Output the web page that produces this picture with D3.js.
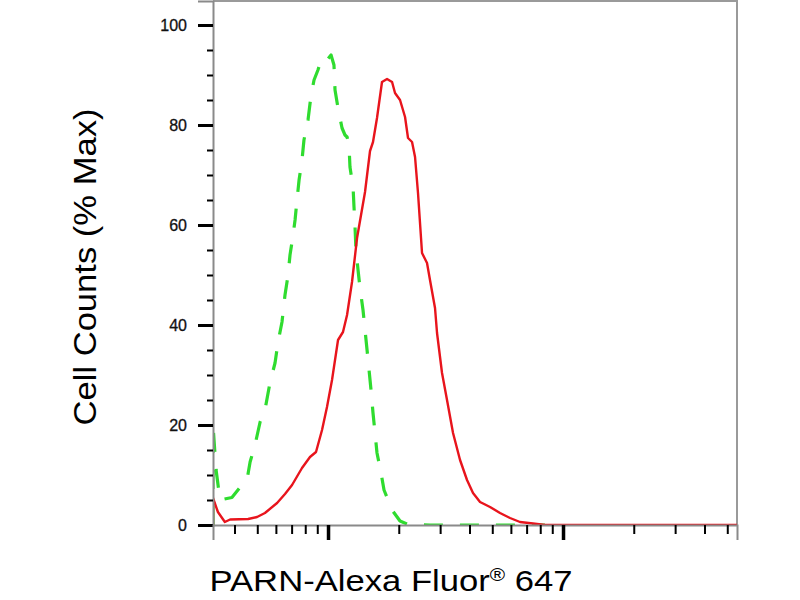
<!DOCTYPE html>
<html>
<head>
<meta charset="utf-8">
<script src="https://cdn.jsdelivr.net/npm/d3@7"></script>
<style>
html,body{margin:0;padding:0;background:#fff;}
svg{display:block;}
</style>
</head>
<body>
<svg id="chart" width="800" height="600"></svg>
<script>
// ---- data ----
const xDomain = [324, 55000];
const yDomain = [0, 104.8];
const yTickLabels = [0, 20, 40, 60, 80, 100];
const yMinorTicks = [5, 10, 15, 25, 30, 35, 45, 50, 55, 65, 70, 75, 85, 90, 95];
const xMajorTicks = [1000, 10000];
const xMinorTicks = [400, 500, 600, 700, 800, 900, 2000, 3000, 4000, 5000, 6000, 7000, 8000, 9000, 20000, 30000, 40000, 50000];

const greenX = [324, 324, 334, 347, 390, 422, 452, 466, 489, 514, 539, 567, 595, 613, 637, 656, 676, 689, 710, 724, 738, 753, 775, 790, 822, 847, 872, 906, 934, 962, 990, 1030, 1060, 1071, 1103, 1147, 1181, 1205, 1228, 1240, 1278, 1290, 1303, 1315, 1342, 1368, 1409, 1437, 1466, 1524, 1554, 1585, 1616, 1681, 1731, 1873, 2025, 2169, 2716, 4021, 5951, 8382];
const greenY = [0, 20, 11, 5, 5.5, 7.5, 9, 12.6, 16, 20.6, 23, 28.6, 32.4, 36.6, 40.6, 46, 50, 54, 58, 61, 65, 69, 73, 77, 81, 86, 89, 91, 93, 92.5, 93, 94, 92, 87, 83.4, 79.4, 78, 77.6, 76, 71.6, 67.6, 63.6, 59.6, 55, 51, 47.4, 43, 39, 35, 27, 22.4, 18.4, 14.4, 10.4, 7, 3, 0.8, 0.2, 0, 0, 0, 0];

const redX = [324, 324, 340, 364, 383, 457, 499, 539, 607, 656, 703, 775, 838, 889, 943, 990, 1040, 1103, 1158, 1205, 1265, 1329, 1437, 1509, 1554, 1616, 1697, 1783, 1873, 1928, 2025, 2127, 2190, 2278, 2346, 2415, 2512, 2638, 2716, 2853, 2910, 3056, 3209, 3404, 3646, 3904, 4140, 4435, 4892, 5395, 5951, 6561, 7454, 8382, 55000];
const redY = [0, 5.4, 2.6, 0.6, 1.1, 1.2, 1.6, 2.4, 4.4, 6.2, 8, 11.4, 13.6, 14.6, 19, 23.6, 29, 37, 38.6, 42, 48.6, 57.4, 66.6, 74.8, 76.6, 81.4, 88.6, 89.2, 88.6, 86.4, 85, 81.6, 77.4, 76.6, 73.6, 66.4, 54.4, 52.4, 49, 43.4, 38.4, 30.4, 25, 18.4, 13, 9, 6.4, 4.6, 3.6, 2.4, 1.4, 0.6, 0.3, 0, 0];

const xTitle = "PARN-Alexa Fluor";
const xTitleSup = "®";
const xTitleEnd = " 647";
const yTitle = "Cell Counts (% Max)";

// ---- layout ----
const L = 213, R = 737, T = 1, B = 525;
const svg = d3.select("#chart");
const x = d3.scaleLog().domain(xDomain).range([L, R]);
const y = d3.scaleLinear().domain(yDomain).range([B, T]);

svg.append("defs").append("clipPath").attr("id", "clip")
  .append("rect").attr("x", L).attr("y", T - 2).attr("width", R - L).attr("height", B - T + 2);

// frame (top/right)
svg.append("path")
  .attr("d", `M${L},${T}H${R}V${B}`)
  .attr("fill", "none").attr("stroke", "#9a9a9a").attr("stroke-width", 2);

// curves
const line = d3.line().x(d => x(d[0])).y(d => y(d[1]));
const g = svg.append("g").attr("clip-path", "url(#clip)");
g.append("path")
  .datum(greenX.map((v, i) => [v, greenY[i]]))
  .attr("d", line)
  .attr("fill", "none").attr("stroke", "#2fdc2f").attr("stroke-width", 3.2)
  .attr("stroke-dasharray", "19,17").attr("stroke-linejoin", "round");
g.append("path")
  .datum(redX.map((v, i) => [v, redY[i]]))
  .attr("d", line)
  .attr("fill", "none").attr("stroke", "#e8141c").attr("stroke-width", 2.4)
  .attr("stroke-linejoin", "round");

// y axis
const yAxisMajor = d3.axisLeft(y).tickValues(yTickLabels).tickSize(15).tickPadding(11).tickFormat(d3.format("d"));
const ya = svg.append("g").attr("transform", `translate(${L},0)`).call(yAxisMajor);
ya.select(".domain").attr("stroke", "#8a8a8a").attr("stroke-width", 2);
ya.selectAll(".tick line").attr("stroke", "#000").attr("stroke-width", 3);
ya.selectAll(".tick text").attr("font-family", "Liberation Sans, Arial, sans-serif")
  .attr("font-size", 16).attr("fill", "#111").attr("stroke", "#111").attr("stroke-width", 0.3);
const yaMinor = svg.append("g").attr("transform", `translate(${L},0)`)
  .call(d3.axisLeft(y).tickValues(yMinorTicks).tickSize(6).tickFormat(""));
yaMinor.select(".domain").remove();
yaMinor.selectAll(".tick line").attr("stroke", "#000").attr("stroke-width", 2);

// x axis
const xa = svg.append("g").attr("transform", `translate(0,${B})`)
  .call(d3.axisBottom(x).tickValues(xMajorTicks).tickSize(15).tickFormat(""));
xa.select(".domain").attr("stroke", "#8a8a8a").attr("stroke-width", 2);
xa.selectAll(".tick line").attr("stroke", "#000").attr("stroke-width", 3.5);
const xaMinor = svg.append("g").attr("transform", `translate(0,${B})`)
  .call(d3.axisBottom(x).tickValues(xMinorTicks).tickSize(9).tickFormat(""));
xaMinor.select(".domain").remove();
xaMinor.selectAll(".tick line").attr("stroke", "#000").attr("stroke-width", 2);

// axis titles
const xt = svg.append("text")
  .attr("x", 391).attr("y", 591)
  .attr("text-anchor", "middle")
  .attr("font-family", "Liberation Sans, Arial, sans-serif")
  .attr("font-size", 30).attr("fill", "#000")
  .attr("textLength", 363).attr("lengthAdjust", "spacingAndGlyphs");
xt.append("tspan").text(xTitle);
xt.append("tspan").text(xTitleSup).attr("font-size", 18).attr("dy", -10);
xt.append("tspan").text(xTitleEnd).attr("dy", 10);

svg.append("text")
  .attr("transform", "translate(96,267) rotate(-90)")
  .attr("text-anchor", "middle")
  .attr("font-family", "Liberation Sans, Arial, sans-serif")
  .attr("font-size", 31).attr("fill", "#000")
  .attr("textLength", 317).attr("lengthAdjust", "spacingAndGlyphs")
  .text(yTitle);
</script>
</body>
</html>
